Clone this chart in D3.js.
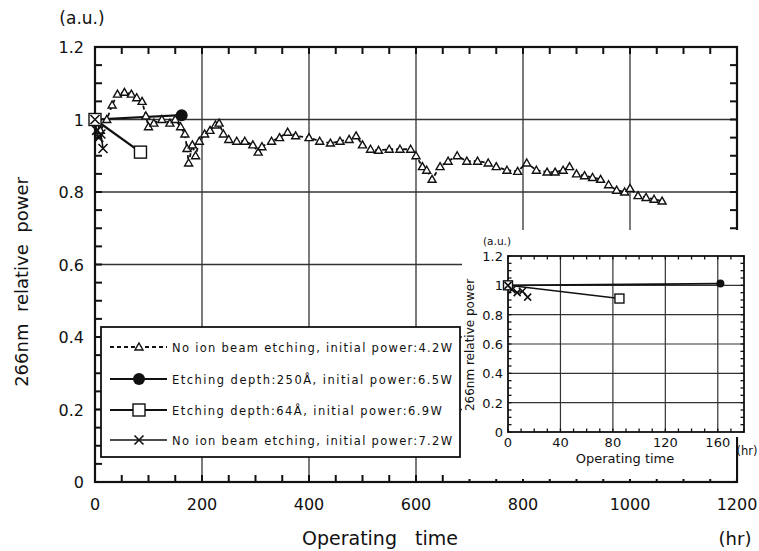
<!doctype html>
<html lang='en'>
<head>
<meta charset='UTF-8'>
<title>266nm relative power</title>
<style>
  body { margin: 0; background: #fff; }
  svg text { font-family: 'DejaVu Sans', sans-serif; fill: #111; }
</style>
</head>
<body>
<script src='https://d3js.org/d3.v7.min.js'></script>
<script>
  // series: [hours, relative power]
  const noEtch42 = [[0,1.0],[10,0.97],[22,1.0],[32,1.04],[42,1.07],[55,1.075],[68,1.07],[78,1.06],[88,1.05],[95,1.01],[100,0.98],[110,0.99],[125,1.0],[140,0.99],[150,1.0],[160,0.98],[168,0.96],[172,0.92],[175,0.88],[182,0.93],[188,0.9],[195,0.94],[205,0.96],[215,0.97],[225,0.985],[232,0.99],[240,0.96],[250,0.945],[265,0.94],[280,0.94],[295,0.93],[305,0.91],[312,0.925],[330,0.94],[345,0.95],[360,0.965],[375,0.955],[400,0.95],[420,0.94],[440,0.935],[458,0.94],[475,0.945],[488,0.955],[500,0.93],[515,0.918],[530,0.915],[550,0.918],[570,0.918],[590,0.918],[600,0.9],[612,0.87],[620,0.86],[630,0.835],[645,0.87],[660,0.885],[677,0.9],[695,0.885],[715,0.885],[735,0.88],[750,0.87],[770,0.86],[790,0.857],[807,0.88],[825,0.86],[845,0.855],[860,0.855],[875,0.86],[887,0.87],[900,0.85],[915,0.845],[930,0.84],[945,0.835],[960,0.82],[975,0.805],[990,0.8],[1000,0.81],[1015,0.79],[1030,0.785],[1045,0.78],[1060,0.775]]
  const etch250 = [[0,1.0],[162,1.012]]
  const etch64 = [[0,1.0],[85,0.91]]
  const noEtch72 = [[0,1.0],[3,0.97],[7,0.95],[11,0.96],[15,0.92]]

  const legendLabels = [
    'No ion beam etching, initial power:4.2W',
    'Etching depth:250Å, initial power:6.5W',
    'Etching depth:64Å, initial power:6.9W',
    'No ion beam etching, initial power:7.2W'
  ]
  const xTicks = [0, 200, 400, 600, 800, 1000, 1200]
  const yTicks = [0, 0.2, 0.4, 0.6, 0.8, 1.0, 1.2]
  const insetXTicks = [0, 40, 80, 120, 160]

  const W = 759, H = 551
  const svg = d3.select('body').append('svg').attr('width', W).attr('height', H)

  const x = d3.scaleLinear().domain([0, 1200]).range([95, 737])
  const y = d3.scaleLinear().domain([0, 1.2]).range([482, 47])

  const yFmt = d => d === 0 ? '0' : d === 1 ? '1' : d3.format('.1f')(d)

  // inward tick marks on all four sides of a frame
  function frameTicks(g, xs, ys, xv, yv, len, sw) {
    const [x0, x1] = xs.range(), [y0, y1] = ys.range()
    const t = g.append('g').attr('stroke', '#111').attr('stroke-width', sw)
    xv.forEach(v => {
      t.append('line').attr('x1', xs(v)).attr('x2', xs(v)).attr('y1', y0).attr('y2', y0 - len)
      t.append('line').attr('x1', xs(v)).attr('x2', xs(v)).attr('y1', y1).attr('y2', y1 + len)
    })
    yv.forEach(v => {
      t.append('line').attr('y1', ys(v)).attr('y2', ys(v)).attr('x1', x0).attr('x2', x0 + len)
      t.append('line').attr('y1', ys(v)).attr('y2', ys(v)).attr('x1', x1).attr('x2', x1 - len)
    })
  }

  /******** main grid ********/
  const grid = svg.append('g').attr('stroke', '#333').attr('stroke-width', 1.3)
  grid.selectAll('line.v').data(xTicks.slice(1, -1)).enter().append('line')
    .attr('x1', d => x(d)).attr('x2', d => x(d)).attr('y1', y(0)).attr('y2', y(1.2))
  grid.selectAll('line.h').data(yTicks.slice(1, -1)).enter().append('line')
    .attr('x1', x(0)).attr('x2', x(1200)).attr('y1', d => y(d)).attr('y2', d => y(d))

  frameTicks(svg, x, y, d3.range(0, 1201, 50), d3.range(0, 1.2001, 0.05), 7, 2)

  /******** main frame ********/
  svg.append('rect').attr('x', x(0)).attr('y', y(1.2))
    .attr('width', x(1200) - x(0)).attr('height', y(0) - y(1.2))
    .attr('fill', 'none').attr('stroke', '#111').attr('stroke-width', 2.2)

  /******** main data ********/
  const line = d3.line().x(d => x(d[0])).y(d => y(d[1]))
  const plot = svg.append('g')

  function drawMarker(g, type, cx, cy, s) {
    if (type === 'tri') {
      g.append('path').attr('d', `M${cx},${cy - s}L${cx + s},${cy + s * 0.75}L${cx - s},${cy + s * 0.75}Z`)
        .attr('fill', '#fff').attr('stroke', '#111').attr('stroke-width', 1.4)
    } else if (type === 'circle') {
      g.append('circle').attr('cx', cx).attr('cy', cy).attr('r', s).attr('fill', '#111')
    } else if (type === 'square') {
      g.append('rect').attr('x', cx - s).attr('y', cy - s).attr('width', 2 * s).attr('height', 2 * s)
        .attr('fill', '#fff').attr('stroke', '#111').attr('stroke-width', 1.4)
    } else {
      g.append('path').attr('d', `M${cx - s},${cy - s}L${cx + s},${cy + s}M${cx - s},${cy + s}L${cx + s},${cy - s}`)
        .attr('stroke', '#111').attr('stroke-width', 1.6)
    }
  }

  const series = [
    { data: noEtch42, type: 'tri', dash: '4,3', sw: 1.8, size: 4 },
    { data: etch250, type: 'circle', dash: null, sw: 2.2, size: 6 },
    { data: etch64, type: 'square', dash: null, sw: 2.2, size: 6 },
    { data: noEtch72, type: 'x', dash: null, sw: 1.6, size: 4.5 }
  ]

  series.forEach(s => {
    plot.append('path').datum(s.data).attr('d', line)
      .attr('fill', 'none').attr('stroke', '#111').attr('stroke-width', s.sw)
      .attr('stroke-dasharray', s.dash)
  })
  // markers: circles first so the open symbols sit on top at t=0
  ;[1, 0, 2, 3].forEach(i => {
    const s = series[i]
    s.data.forEach(d => drawMarker(plot, s.type, x(d[0]), y(d[1]), s.size))
  })

  /******** main axis labels ********/
  svg.selectAll('text.xl').data(xTicks).enter().append('text')
    .attr('x', d => x(d)).attr('y', 510).attr('text-anchor', 'middle')
    .attr('font-size', 16).text(d => d)
  svg.selectAll('text.yl').data(yTicks).enter().append('text')
    .attr('x', 84).attr('y', d => y(d) + 6).attr('text-anchor', 'end')
    .attr('font-size', 16).text(yFmt)
  svg.append('text').attr('x', 82).attr('y', 24).attr('text-anchor', 'middle')
    .attr('font-size', 17).text('(a.u.)')
  svg.append('text').attr('x', 380).attr('y', 545).attr('text-anchor', 'middle')
    .attr('font-size', 19).style('white-space', 'pre').text('Operating   time')
  svg.append('text').attr('x', 735).attr('y', 545).attr('text-anchor', 'middle')
    .attr('font-size', 18).text('(hr)')
  svg.append('text').attr('transform', 'translate(28,282) rotate(-90)')
    .attr('text-anchor', 'middle').attr('font-size', 18).style('white-space', 'pre')
    .text('266nm  relative  power')

  /******** legend ********/
  const lg = svg.append('g')
  lg.append('rect').attr('x', 101).attr('y', 327).attr('width', 359).attr('height', 130)
    .attr('fill', '#fff').attr('stroke', '#111').attr('stroke-width', 1.8)
  const rowY = [347, 379, 410, 440]
  series.forEach((s, i) => {
    lg.append('line').attr('x1', 110).attr('x2', 167).attr('y1', rowY[i]).attr('y2', rowY[i])
      .attr('stroke', '#111').attr('stroke-width', s.sw).attr('stroke-dasharray', s.dash)
    drawMarker(lg, s.type, 139, rowY[i], s.size)
    lg.append('text').attr('x', 172).attr('y', rowY[i] + 4.5).attr('font-size', 11.5)
      .attr('textLength', i === 2 ? 270 : 280).attr('lengthAdjust', 'spacing')
      .text(legendLabels[i])
  })

  /******** inset ********/
  svg.append('path')
    .attr('d', 'M462,230H750V437H736V479H462Z').attr('fill', '#fff')
  const xi = d3.scaleLinear().domain([0, 180]).range([508, 744])
  const yi = d3.scaleLinear().domain([0, 1.2]).range([432, 256])
  const ig = svg.append('g')
  ig.selectAll('line.v').data(insetXTicks.slice(1)).enter().append('line')
    .attr('x1', d => xi(d)).attr('x2', d => xi(d)).attr('y1', yi(0)).attr('y2', yi(1.2))
    .attr('stroke', '#333').attr('stroke-width', 1.2)
  ig.selectAll('line.h').data(yTicks.slice(1, -1)).enter().append('line')
    .attr('x1', xi(0)).attr('x2', xi(180)).attr('y1', d => yi(d)).attr('y2', d => yi(d))
    .attr('stroke', '#333').attr('stroke-width', 1.2)
  frameTicks(ig, xi, yi, d3.range(0, 181, 10), d3.range(0, 1.2001, 0.05), 3.5, 1.3)
  ig.append('rect').attr('x', xi(0)).attr('y', yi(1.2))
    .attr('width', xi(180) - xi(0)).attr('height', yi(0) - yi(1.2))
    .attr('fill', 'none').attr('stroke', '#111').attr('stroke-width', 1.8)

  const iline = d3.line().x(d => xi(d[0])).y(d => yi(d[1]))
  const iseries = [
    { data: etch250, type: 'circle', sw: 1.8, size: 4 },
    { data: etch64, type: 'square', sw: 1.5, size: 4.5 },
    { data: noEtch72, type: 'x', sw: 1.3, size: 3.5 }
  ]
  iseries.forEach(s => {
    ig.append('path').datum(s.data).attr('d', iline)
      .attr('fill', 'none').attr('stroke', '#111').attr('stroke-width', s.sw)
  })
  iseries.forEach(s => {
    s.data.forEach(d => drawMarker(ig, s.type, xi(d[0]), yi(d[1]), s.size))
  })

  ig.selectAll('text.xl').data(insetXTicks).enter().append('text')
    .attr('x', d => xi(d)).attr('y', 447).attr('text-anchor', 'middle')
    .attr('font-size', 13).text(d => d)
  ig.selectAll('text.yl').data(yTicks).enter().append('text')
    .attr('x', 503).attr('y', d => yi(d) + 5).attr('text-anchor', 'end')
    .attr('font-size', 13).text(yFmt)
  ig.append('text').attr('x', 497).attr('y', 245).attr('text-anchor', 'middle')
    .attr('font-size', 10.5).text('(a.u.)')
  ig.append('text').attr('x', 625).attr('y', 463).attr('text-anchor', 'middle')
    .attr('font-size', 13).text('Operating time')
  ig.append('text').attr('x', 747).attr('y', 455).attr('text-anchor', 'middle')
    .attr('font-size', 11.5).text('(hr)')
  ig.append('text').attr('transform', 'translate(474,345) rotate(-90)')
    .attr('text-anchor', 'middle').attr('font-size', 12).text('266nm relative power')
</script>
</body>
</html>
